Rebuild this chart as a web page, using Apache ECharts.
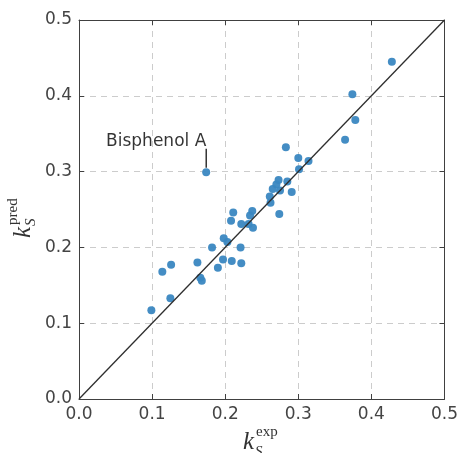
<!DOCTYPE html>
<html>
<head>
<meta charset="utf-8">
<script src="https://cdn.jsdelivr.net/npm/echarts@6/dist/echarts.min.js"></script>
<style>
html,body{margin:0;padding:0;background:#fff;}
#chart{width:461px;height:453px;}
</style>
</head>
<body>
<div id="chart"></div>
<script>
// Data
const kExp = [0.428,0.374,0.378,0.364,0.283,0.300,0.314,0.301,0.273,0.285,
              0.270,0.265,0.275,0.291,0.261,0.262,0.274,0.237,0.234,0.238,
              0.222,0.232,0.174,0.211,0.208,0.198,0.203,0.182,0.221,0.197,
              0.209,0.222,0.190,0.162,0.126,0.114,0.166,0.168,0.125,0.099];
const kPred = [0.445,0.402,0.368,0.342,0.332,0.318,0.314,0.303,0.289,0.287,
               0.283,0.277,0.275,0.273,0.267,0.259,0.244,0.248,0.242,0.226,
               0.231,0.231,0.299,0.246,0.235,0.212,0.207,0.200,0.200,0.184,
               0.182,0.179,0.173,0.180,0.177,0.168,0.160,0.156,0.133,0.117];
const tickValues = [0.0, 0.1, 0.2, 0.3, 0.4, 0.5];
const diagonal = [[0, 0], [0.5, 0.5]];
const annotationText = 'Bisphenol A';
const annotationX = 0.174;
const annotationY = [0.305, 0.330];

const scatterData = kExp.map((x, i) => [x, kPred[i]]);
const frameColor = '#404040';
const tickFont = {fontFamily: 'DejaVu Sans', fontSize: 17, color: '#444'};

function baseAxis(pos, showLabel, showSplit) {
  return {
    type: 'value', position: pos, min: tickValues[0], max: tickValues[tickValues.length - 1], interval: 0.1,
    axisLine: {show: true, onZero: false, lineStyle: {color: frameColor, width: 1}},
    axisTick: {show: true, inside: true, length: 5, lineStyle: {color: frameColor, width: 1}},
    axisLabel: Object.assign({show: showLabel, margin: 7, showMinLabel: true, showMaxLabel: true,
      formatter: v => v.toFixed(1)}, tickFont),
    splitLine: {show: showSplit, lineStyle: {color: '#cccccc', width: 1, type: [6, 5]}}
  };
}

const serif = 'Liberation Serif';
// x, y = top-left corner of the text box (before rotation)
function txt(x, y, text, size, italic, rot) {
  return {type: 'text', x: x, y: y, rotation: rot || 0, silent: true,
    style: {text: text, fontFamily: serif, fontStyle: italic ? 'italic' : 'normal',
            fontSize: size, fill: '#333'}};
}

const chart = echarts.init(document.getElementById('chart'), null, {renderer: 'canvas'});
chart.setOption({
  animation: false,
  backgroundColor: '#fff',
  grid: {left: 79, right: 16, top: 20, bottom: 54, containLabel: false},
  xAxis: [baseAxis('bottom', true, true), baseAxis('top', false, false)],
  yAxis: [baseAxis('left', true, true), baseAxis('right', false, false)],
  series: [
    {
      type: 'scatter', xAxisIndex: 0, yAxisIndex: 0,
      data: scatterData, symbolSize: 8, z: 2,
      itemStyle: {color: '#3a87c1', opacity: 0.95}
    },
    {
      type: 'line', xAxisIndex: 0, yAxisIndex: 0,
      data: diagonal, showSymbol: false, symbol: 'none', z: 3,
      lineStyle: {color: '#2e2e2e', width: 1.3}
    },
    {
      type: 'line', xAxisIndex: 0, yAxisIndex: 0,
      data: [[annotationX, annotationY[0]], [annotationX, annotationY[1]]],
      symbol: 'none', showSymbol: false, z: 3,
      lineStyle: {color: '#000', width: 1.2}
    },
    {
      type: 'scatter', xAxisIndex: 0, yAxisIndex: 0,
      data: [[annotationX, annotationY[1]]], symbolSize: 1, z: 4,
      itemStyle: {color: 'rgba(0,0,0,0)'},
      label: {show: true, position: 'top', distance: 1, offset: [-50, 3],
              formatter: annotationText, fontFamily: 'DejaVu Sans', fontSize: 17, color: '#000'}
    }
  ],
  graphic: [
    txt(243, 429.5, 'k', 25, true),
    txt(256, 424.7, 'exp', 15, false),
    txt(255, 444.7, 'S', 15, true),
    txt(10.5, 238, 'k', 25, true, Math.PI / 2),
    txt(5.7, 225, 'pred', 15, false, Math.PI / 2),
    txt(23.7, 226, 'S', 15, true, Math.PI / 2)
  ]
});
</script>
</body>
</html>
